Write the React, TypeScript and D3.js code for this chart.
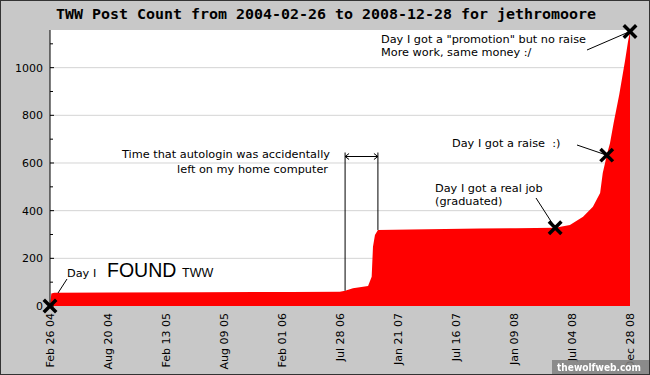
import * as d3 from 'd3';

// cumulative post count
const dates = [
  '2004-02-26', '2004-03-01', '2004-03-10', '2004-09-01', '2005-06-01',
  '2006-03-01', '2006-07-28', '2006-08-13', '2006-09-06', '2006-10-22',
  '2006-11-02', '2006-11-06', '2006-11-12', '2006-11-21', '2007-03-01',
  '2007-09-28', '2008-01-15', '2008-05-14', '2008-06-28', '2008-08-07',
  '2008-09-06', '2008-09-28', '2008-10-06', '2008-10-13', '2008-10-18',
  '2008-10-28', '2008-11-08', '2008-11-25', '2008-12-13', '2008-12-22',
  '2008-12-28',
];
const counts = [
  0, 52, 56, 57, 58,
  59, 60, 64, 74, 84,
  123, 249, 298, 319, 321,
  325, 326, 328, 340, 374,
  416, 474, 558, 600, 633,
  683, 767, 885, 1030, 1110,
  1152,
];

const tickDates = [
  '2004-02-26', '2004-08-20', '2005-02-13', '2005-08-09', '2006-02-01',
  '2006-07-28', '2007-01-21', '2007-07-16', '2008-01-09', '2008-07-04',
  '2008-12-28',
];
const yTicks = [0, 200, 400, 600, 800, 1000];
const yMinor = [100, 300, 500, 700, 900, 1100];

const markerDates = ['2004-02-26', '2008-05-14', '2008-10-18', '2008-12-28'];
const markerCounts = [0, 328, 633, 1152];

const autologinStart = '2006-08-13';
const autologinEnd = '2006-11-21';

const title = 'TWW Post Count from 2004-02-26 to 2008-12-28 for jethromoore';

const parse = d3.timeParse('%Y-%m-%d');
const font = "'DejaVu Sans', Verdana, sans-serif";

export default function App() {
  const width = 650;
  const height = 375;
  const margin = { top: 30, right: 20, bottom: 69, left: 50 };
  const plotW = width - margin.left - margin.right;
  const plotH = height - margin.top - margin.bottom;

  const points = dates.map((d, i) => ({ date: parse(d) as Date, value: counts[i] }));

  const x = d3
    .scaleTime()
    .domain([parse(tickDates[0]) as Date, parse(tickDates[tickDates.length - 1]) as Date])
    .range([margin.left, margin.left + plotW]);
  const y = d3
    .scaleLinear()
    .domain([0, 1158])
    .range([margin.top + plotH, margin.top]);

  const area = d3
    .area<{ date: Date; value: number }>()
    .x((d) => x(d.date))
    .y0(y(0))
    .y1((d) => y(d.value));

  const fmt = d3.timeFormat('%b %d %y');
  const markers = markerDates.map((d, i) => ({ x: x(parse(d) as Date), y: y(markerCounts[i]) }));

  const xa = x(parse(autologinStart) as Date);
  const xb = x(parse(autologinEnd) as Date);
  const ya = y(64);
  const yb = y(319);
  const arrowY = 156.5;

  const tick = { fontFamily: font, fontSize: 11, fill: '#000' } as const;
  const note = { fontFamily: font, fontSize: 11.3, fill: '#000', style: { whiteSpace: 'pre' } } as const;

  return (
    <div style={{ position: 'fixed', left: 0, top: 0 }}>
      <svg width={width} height={height} style={{ display: 'block' }}>
        <rect x={0.5} y={0.5} width={width - 1} height={height - 1} fill='#c8c8c8' stroke='#333' />
        <text
          x={326}
          y={19}
          textAnchor='middle'
          fontFamily="'DejaVu Sans Mono', monospace"
          fontWeight='bold'
          fontSize={14}
          textLength={540}
          lengthAdjust='spacingAndGlyphs'
        >
          {title}
        </text>

        <rect x={margin.left} y={margin.top} width={plotW} height={plotH} fill='#fff' />

        {yTicks.slice(1).map((t) => (
          <line key={t} x1={margin.left} x2={margin.left + plotW} y1={y(t)} y2={y(t)} stroke='#d4d4d4' />
        ))}

        <path d={area(points) ?? ''} fill='#ff0000' />

        {/* y axis */}
        <line x1={margin.left} x2={margin.left} y1={margin.top} y2={margin.top + plotH} stroke='#000' />
        {yTicks.map((t) => (
          <g key={t}>
            <line x1={margin.left} x2={margin.left + 4} y1={y(t)} y2={y(t)} stroke='#000' />
            <text {...tick} x={margin.left - 7} y={y(t) + 4} textAnchor='end'>
              {t}
            </text>
          </g>
        ))}
        {yMinor.map((t) => (
          <line key={t} x1={margin.left} x2={margin.left + 3} y1={y(t)} y2={y(t)} stroke='#000' />
        ))}

        {/* x axis labels */}
        {tickDates.map((d) => {
          const px = x(parse(d) as Date);
          return (
            <text
              key={d}
              {...tick}
              transform={`translate(${px + 4},${margin.top + plotH + 7}) rotate(-90)`}
              textAnchor='end'
            >
              {fmt(parse(d) as Date)}
            </text>
          );
        })}

        {/* autologin bracket */}
        <line x1={xa} x2={xa} y1={152.5} y2={ya} stroke='#000' />
        <line x1={xb} x2={xb} y1={152.5} y2={yb} stroke='#000' />
        <line x1={xa} x2={xb} y1={arrowY} y2={arrowY} stroke='#000' />
        <path
          d={`M${xa + 4},${arrowY - 3}L${xa},${arrowY}L${xa + 4},${arrowY + 3}M${xb - 4},${arrowY - 3}L${xb},${arrowY}L${xb - 4},${arrowY + 3}`}
          fill='none'
          stroke='#000'
        />
        <text {...note} x={330} y={158} textAnchor='end'>
          Time that autologin was accidentally
        </text>
        <text {...note} x={328} y={173} textAnchor='end'>
          left on my home computer
        </text>

        {/* found */}
        <line x1={58} y1={293} x2={67} y2={279} stroke='#000' />
        <text {...note} x={67} y={277}>
          Day I
        </text>
        <text x={107} y={277} fontFamily="'Liberation Sans', Arial, sans-serif" fontSize={19.5}>
          FOUND
        </text>
        <text x={182} y={277} fontFamily="'Liberation Sans', Arial, sans-serif" fontSize={12.5}>
          TWW
        </text>

        {/* real job */}
        <text {...note} x={435} y={192}>
          Day I got a real job
        </text>
        <text {...note} x={435} y={205}>
          (graduated)
        </text>
        <line x1={536} y1={198} x2={markers[1].x} y2={markers[1].y} stroke='#000' />

        {/* raise */}
        <text {...note} x={452} y={147}>
          {'Day I got a raise  :)'}
        </text>
        <line x1={577} y1={145} x2={markers[2].x} y2={markers[2].y} stroke='#000' />

        {/* promotion */}
        <text {...note} x={381} y={43}>
          Day I got a "promotion" but no raise
        </text>
        <text {...note} x={381} y={56}>
          More work, same money :/
        </text>
        <line x1={587} y1={50} x2={markers[3].x} y2={markers[3].y} stroke='#000' />

        {markers.map((m, i) => (
          <path
            key={i}
            d={`M${m.x - 5},${m.y - 5}L${m.x + 5},${m.y + 5}M${m.x - 5},${m.y + 5}L${m.x + 5},${m.y - 5}`}
            stroke='#000'
            strokeWidth={3.5}
            strokeLinecap='square'
          />
        ))}

        {/* watermark */}
        <rect x={552} y={360} width={97} height={14} fill='#808080' opacity={0.85} />
        <text
          x={599}
          y={371}
          textAnchor='middle'
          fontFamily="'DejaVu Sans', sans-serif"
          fontWeight='bold'
          fontSize={10.5}
          fill='#fff'
          textLength={84}
          lengthAdjust='spacingAndGlyphs'
        >
          thewolfweb.com
        </text>
      </svg>
    </div>
  );
}
